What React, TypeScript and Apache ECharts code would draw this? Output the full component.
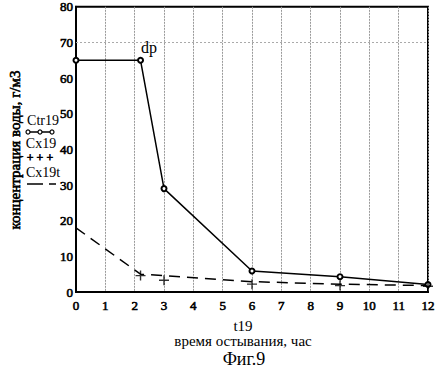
import React, { useEffect, useRef } from "react";
import * as echarts from "echarts";

const ctr19: [number, number][] = [
  [0, 65], [2.2, 65], [3, 29], [6, 5.9], [9, 4.3], [12, 2.1],
];
const cx19: [number, number][] = [
  [2.2, 4.6], [3, 3.3], [6, 2.2], [9, 1.8], [12, 1.6],
];
const cx19t: [number, number][] = [
  [0, 18], [2.2, 5], [3, 4.6], [6, 2.9], [9, 2.2], [12, 1.8],
];
const xTicks = { min: 0, max: 12, interval: 1 };
const yTicks = { min: 0, max: 80, interval: 10 };
const gridLineY = 70;

const FONT = "Liberation Serif, serif";
const PLUS = "path://M4.3,0H5.7V4.3H10V5.7H5.7V10H4.3V5.7H0V4.3H4.3Z";

export default function App() {
  const ref = useRef<HTMLDivElement>(null);
  useEffect(() => {
    if (!ref.current) return;
    const chart = echarts.init(ref.current, null, { renderer: "svg" });
    const boldLabel = {
      color: "#000", fontFamily: FONT, fontSize: 13,
      textBorderColor: "#000", textBorderWidth: 0.6,
    };
    chart.setOption({
      animation: false,
      backgroundColor: "#fff",
      grid: {
        left: 76, right: 10, top: 6, bottom: 77,
        show: true, borderColor: "#000", borderWidth: 2,
      },
      xAxis: {
        type: "value",
        min: xTicks.min, max: xTicks.max, interval: xTicks.interval,
        axisLine: { lineStyle: { color: "#000", width: 2 } },
        axisTick: { show: false },
        axisLabel: { ...boldLabel, margin: 7 },
        splitLine: { show: true, lineStyle: { color: "#999", width: 1, type: [2, 1] } },
      },
      yAxis: {
        type: "value",
        min: yTicks.min, max: yTicks.max, interval: yTicks.interval,
        axisLine: { show: true, lineStyle: { color: "#000", width: 2 } },
        axisTick: { show: false },
        axisLabel: { ...boldLabel, margin: 3 },
        splitLine: { show: false },
      },
      series: [
        {
          name: "Ctr19",
          type: "line",
          data: ctr19,
          symbol: "emptyCircle",
          symbolSize: 5,
          lineStyle: { color: "#000", width: 1.5 },
          itemStyle: { color: "#000", borderColor: "#000", borderWidth: 1.2 },
          label: {
            show: true,
            formatter: (p: any) => (p.dataIndex === 1 ? "dp" : ""),
            position: [4, -17],
            color: "#000",
            fontFamily: FONT,
            fontSize: 16,
          },
          markLine: {
            silent: true,
            symbol: "none",
            label: { show: false },
            lineStyle: { color: "#aaa", type: [2, 2], width: 1 },
            data: [{ yAxis: gridLineY }],
          },
          z: 3,
        },
        {
          name: "Cx19t",
          type: "line",
          data: cx19t,
          symbol: "none",
          lineStyle: { color: "#000", width: 1.5, type: [11, 7] },
          z: 2,
        },
        {
          name: "Cx19",
          type: "scatter",
          data: cx19,
          symbol: PLUS,
          symbolSize: 10,
          itemStyle: { color: "#000" },
          z: 4,
        },
      ],
      graphic: [
        {
          type: "text", x: 15, y: 150, rotation: Math.PI / 2,
          style: {
            text: "концентрация воды, г/м3", fill: "#000", font: `15px ${FONT}`,
            stroke: "#000", lineWidth: 0.6,
            align: "center", verticalAlign: "middle",
          },
        },
        { type: "text", x: 43, y: 120, style: { text: "Ctr19", fill: "#000", font: `14px ${FONT}`, align: "center", verticalAlign: "middle" } },
        { type: "line", shape: { x1: 27, y1: 132, x2: 53, y2: 132 }, style: { stroke: "#000", lineWidth: 1.5 } },
        { type: "circle", shape: { cx: 28, cy: 132, r: 2 }, style: { fill: "#fff", stroke: "#000", lineWidth: 1.2 } },
        { type: "circle", shape: { cx: 40, cy: 132, r: 2 }, style: { fill: "#fff", stroke: "#000", lineWidth: 1.2 } },
        { type: "circle", shape: { cx: 52, cy: 132, r: 2 }, style: { fill: "#fff", stroke: "#000", lineWidth: 1.2 } },
        { type: "text", x: 41, y: 143, style: { text: "Cx19", fill: "#000", font: `14px ${FONT}`, align: "center", verticalAlign: "middle" } },
        { type: "text", x: 40, y: 158, style: { text: "+ + +", fill: "#000", font: `12px ${FONT}`, stroke: "#000", lineWidth: 0.6, align: "center", verticalAlign: "middle" } },
        { type: "text", x: 43, y: 172, style: { text: "Cx19t", fill: "#000", font: `14px ${FONT}`, align: "center", verticalAlign: "middle" } },
        { type: "line", shape: { x1: 27, y1: 184, x2: 56, y2: 184 }, style: { stroke: "#000", lineWidth: 1.3, lineDash: [16, 6] } },
        { type: "text", x: 243, y: 326, style: { text: "t19", fill: "#000", font: `15px ${FONT}`, align: "center", verticalAlign: "middle" } },
        { type: "text", x: 243, y: 341, style: { text: "время остывания, час", fill: "#000", font: `15px ${FONT}`, align: "center", verticalAlign: "middle" } },
        { type: "text", x: 244, y: 359, style: { text: "Фиг.9", fill: "#000", font: `18px ${FONT}`, align: "center", verticalAlign: "middle" } },
      ],
    });
    return () => chart.dispose();
  }, []);
  return (
    <div
      ref={ref}
      style={{ position: "fixed", left: 0, top: 0, width: 438, height: 369, background: "#fff" }}
    />
  );
}
